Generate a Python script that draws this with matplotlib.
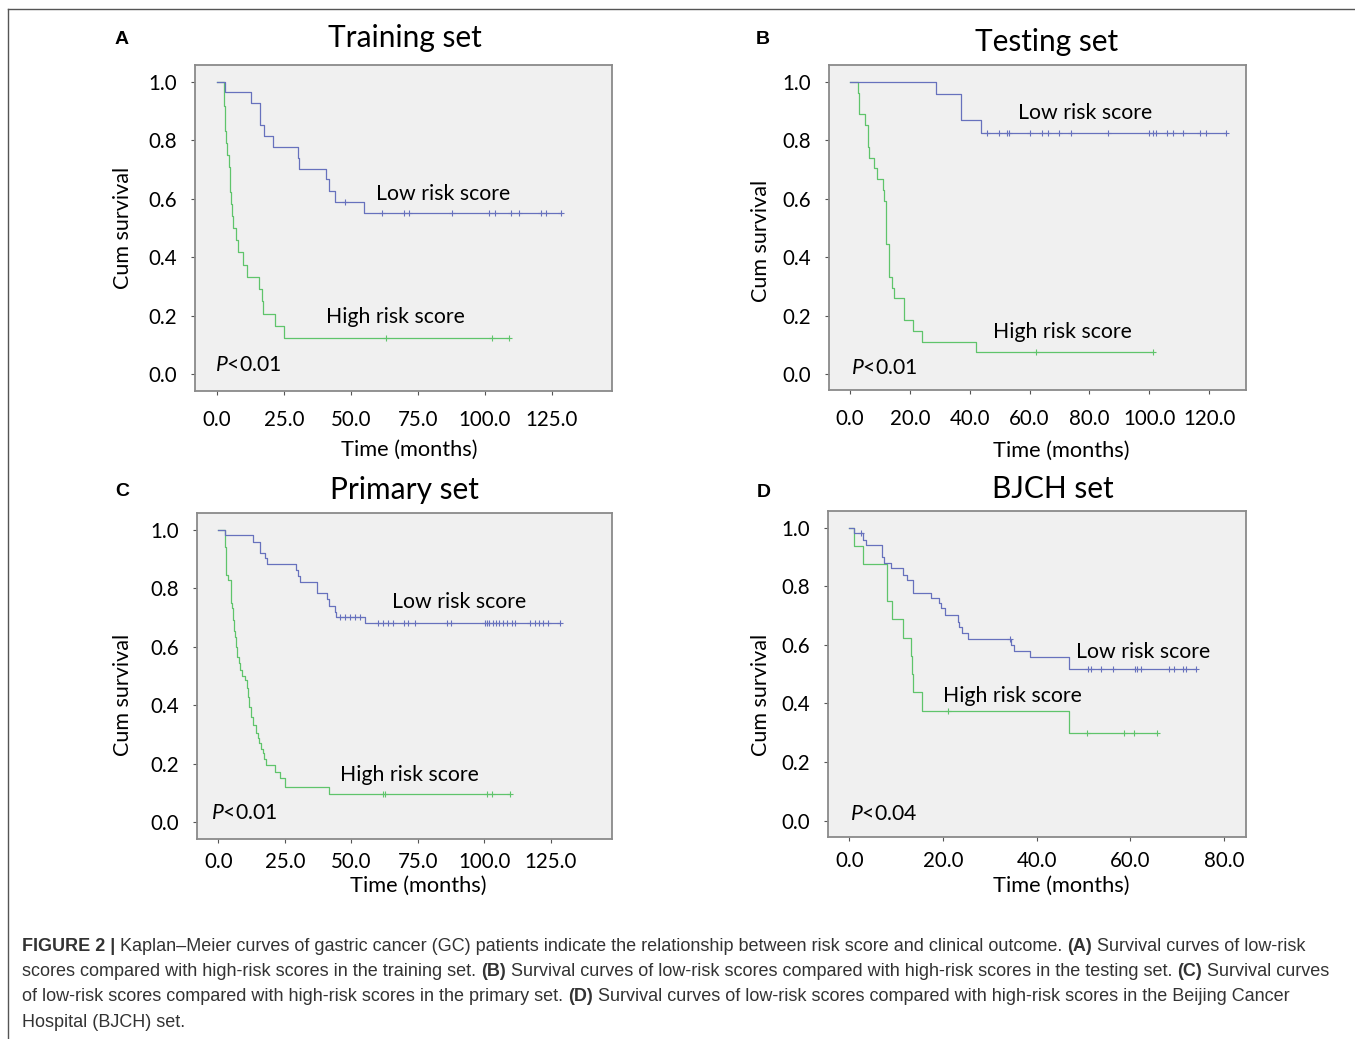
import numpy as np
import matplotlib
matplotlib.use('Agg')
import matplotlib.pyplot as plt
from matplotlib.lines import Line2D

plt.rcParams['font.family'] = ['Lato', 'DejaVu Sans']
plt.rcParams['mathtext.fontset'] = 'custom'
plt.rcParams['mathtext.rm'] = 'Lato'
plt.rcParams['mathtext.it'] = 'Lato:italic'

W, H = 1355, 1039
BLUE = '#6771bd'
GREEN = '#5fc46b'

# ---- A: training set ----
a_low_t = [0, 3.0, 12.9, 16.0, 17.7, 20.9, 30.1, 30.7, 40.9, 41.7, 44.0, 55.0]
a_low_s = [1.0, 0.965, 0.927, 0.853, 0.815, 0.777, 0.741, 0.703, 0.667, 0.628, 0.590, 0.552]
a_low_end = 128.4
a_low_cens = [47.9, 61.8, 69.9, 71.8, 87.9, 101.6, 103.7, 109.7, 112.8, 120.9, 122.8, 128.4]
a_high_t = [0, 2.5, 2.7, 2.9, 3.1, 3.3, 3.7, 4.6, 4.8, 5.0, 5.2, 5.8, 6.0, 7.1, 7.7, 9.8,
            11.4, 15.8, 17.0, 17.2, 21.6, 24.9]
a_high_s = [1.0, 0.958, 0.917, 0.875, 0.833, 0.792, 0.75, 0.708, 0.667, 0.625, 0.583, 0.542,
            0.5, 0.458, 0.417, 0.375, 0.333, 0.292, 0.25, 0.208, 0.167, 0.125]
a_high_end = 109.1
a_high_cens = [63.1, 102.9, 109.1]

# ---- B: testing set ----
b_low_t = [0, 28.9, 37.0, 37.2, 43.9]
b_low_s = [1.0, 0.957, 0.913, 0.870, 0.826]
b_low_end = 125.6
b_low_cens = [45.9, 49.9, 52.3, 53.0, 60.1, 64.0, 66.2, 69.9, 74.0, 86.1, 100.0, 101.3,
              102.2, 106.0, 108.0, 111.3, 116.9, 119.1, 125.6]
b_high_t = [0, 2.8, 2.9, 3.0, 5.0, 5.9, 6.0, 6.4, 8.0, 8.9, 11.1, 11.3, 11.9, 12.0, 12.1,
            12.2, 13.0, 13.1, 13.2, 14.0, 14.8, 18.0, 18.1, 21.2, 23.9, 42.1]
b_high_s = [1.0, 0.963, 0.926, 0.889, 0.852, 0.815, 0.778, 0.741, 0.704, 0.667, 0.630, 0.593,
            0.556, 0.519, 0.481, 0.444, 0.407, 0.370, 0.333, 0.296, 0.259, 0.222, 0.185,
            0.148, 0.111, 0.074]
b_high_end = 101.3
b_high_cens = [62.0, 101.3]

# ---- C: primary set ----
c_low_t = [0, 2.5, 12.9, 15.7, 17.6, 18.4, 29.1, 29.8, 30.7, 37.0, 37.2, 40.8, 41.8, 43.9,
           44.1, 55.2]
c_low_s = [1.0, 0.983, 0.960, 0.922, 0.903, 0.883, 0.863, 0.844, 0.823, 0.803, 0.783, 0.763,
           0.740, 0.720, 0.701, 0.681]
c_low_end = 128.5
c_low_cens = [45.7, 47.6, 49.5, 51.4, 53.3, 60.2, 62.0, 63.9, 65.8, 69.8, 71.4, 73.9, 85.9,
              87.4, 100.3, 100.9, 101.9, 103.2, 104.4, 105.6, 107.1, 108.6, 110.3, 111.5,
              117.2, 119.0, 120.6, 122.1, 124.0, 128.5]
c_high_t = [0, 2.5, 2.6, 2.7, 2.8, 2.9, 3.0, 3.8, 4.6, 4.8, 5.0, 5.4, 5.6, 5.9, 6.2, 6.6,
            6.9, 7.9, 8.3, 8.8, 10.0, 10.8, 11.3, 11.7, 12.3, 12.9, 14.2, 14.8, 15.4, 16.0,
            16.7, 17.3, 17.9, 21.3, 23.2, 25.1, 41.7]
c_high_s = [1.0, 0.98, 0.96, 0.94, 0.92, 0.88, 0.846, 0.829, 0.79, 0.75, 0.732, 0.712, 0.692,
            0.655, 0.635, 0.60, 0.567, 0.544, 0.52, 0.50, 0.487, 0.46, 0.43, 0.393, 0.36,
            0.333, 0.305, 0.29, 0.270, 0.25, 0.236, 0.215, 0.196, 0.173, 0.150, 0.120, 0.097]
c_high_end = 109.7
c_high_cens = [62.0, 62.6, 100.9, 102.8, 109.7]

# ---- D: BJCH set ----
d_low_t = [0, 1.0, 2.9, 3.6, 6.9, 7.5, 9.0, 11.4, 12.3, 13.5, 17.4, 19.2, 19.6, 20.4, 23.1,
           23.5, 24.0, 25.3, 34.5, 35.1, 38.6, 46.9]
d_low_s = [1.0, 0.983, 0.958, 0.941, 0.901, 0.881, 0.861, 0.838, 0.822, 0.778, 0.759, 0.742,
           0.725, 0.702, 0.679, 0.660, 0.639, 0.620, 0.600, 0.580, 0.558, 0.518]
d_low_end = 74.0
d_low_cens = [2.6, 34.2, 51.0, 51.5, 53.7, 56.2, 61.0, 61.5, 62.3, 68.3, 69.4, 71.3, 71.9, 74.0]
d_high_t = [0, 0.9, 2.9, 8.0, 8.1, 9.2, 11.5, 13.1, 13.3, 13.5, 15.6, 46.9]
d_high_s = [1.0, 0.9375, 0.875, 0.8125, 0.75, 0.6875, 0.625, 0.5625, 0.5, 0.4375, 0.375, 0.30]
d_high_end = 65.6
d_high_cens = [21.1, 50.7, 58.6, 60.8, 65.6]

titles = ['Training set', 'Testing set', 'Primary set', 'BJCH set']
letters = ['A', 'B', 'C', 'D']
pvals = ['$P$<0.01', '$P$<0.01', '$P$<0.01', '$P$<0.04']


def px(x, y):
    return x / W, 1 - y / H


def km(ax, t, s, end, cens, color):
    tt = list(t) + [end]
    ss = list(s) + [s[-1]]
    ax.step(tt, ss, where='post', color=color, lw=0.9)
    idx = np.searchsorted(t, cens, side='right') - 1
    ax.plot(cens, np.array(s)[idx], ls='none', marker='+', ms=4.5, mew=0.8, color=color)


fig = plt.figure(figsize=(W / 100, H / 100), dpi=100)

# axes boxes in pixel coords: left, top, right, bottom
boxes = [(195, 65, 611.5, 390.5), (829, 65, 1246, 390),
         (197.3, 512.7, 611.7, 839), (828.3, 511, 1245.7, 836.7)]
xlims = [(-8.2, 147.4), (-7.0, 132.3), (-7.9, 147.9), (-4.48, 84.6)]
ylims = [(-0.055, 1.058), (-0.055, 1.058), (-0.057, 1.059), (-0.055, 1.057)]
xticks = [np.arange(0, 126, 25), np.arange(0, 121, 20), np.arange(0, 126, 25), np.arange(0, 81, 20)]
xpads = [11, 11, 6.3, 7]

panels = [
    (a_low_t, a_low_s, a_low_end, a_low_cens, a_high_t, a_high_s, a_high_end, a_high_cens),
    (b_low_t, b_low_s, b_low_end, b_low_cens, b_high_t, b_high_s, b_high_end, b_high_cens),
    (c_low_t, c_low_s, c_low_end, c_low_cens, c_high_t, c_high_s, c_high_end, c_high_cens),
    (d_low_t, d_low_s, d_low_end, d_low_cens, d_high_t, d_high_s, d_high_end, d_high_cens),
]
low_lab = [(59.3, 0.616), (56.1, 0.893), (65.3, 0.754), (48.4, 0.576)]
high_lab = [(40.7, 0.195), (47.8, 0.144), (45.8, 0.162), (20.0, 0.426)]
p_lab = [(-0.7, 0.031), (0.3, 0.021), (-2.7, 0.032), (0.1, 0.023)]
title_xy = [(405, 38), (1047, 42), (404, 490), (1053, 489)]
letter_xy = [(122, 40), (763, 40), (122, 492), (764, 493)]
ylab_xy = [(123, 228), (761, 241), (123, 695), (761, 695)]
xlab_xy = [(409, 450), (1061, 451), (418, 886), (1061, 886)]

for i in range(4):
    l, t, r, b = boxes[i]
    ax = fig.add_axes([l / W, 1 - b / H, (r - l) / W, (b - t) / H])
    ax.set_facecolor('#f0f0f0')
    for sp in ax.spines.values():
        sp.set_color('#8a8a8a')
        sp.set_linewidth(1.3)
    lt, ls_, le, lc, ht, hs, he, hc = panels[i]
    km(ax, ht, hs, he, hc, GREEN)
    km(ax, lt, ls_, le, lc, BLUE)
    ax.set_xlim(*xlims[i])
    ax.set_ylim(*ylims[i])
    ax.set_xticks(xticks[i])
    ax.set_xticklabels(['%.1f' % v for v in xticks[i]])
    yt = np.arange(0, 1.01, 0.2)
    ax.set_yticks(yt)
    ax.set_yticklabels(['%.1f' % v for v in yt])
    ax.tick_params(axis='x', length=3, width=0.8, color='#555555', pad=xpads[i],
                   labelsize=14.8)
    ax.tick_params(axis='y', length=3, width=0.8, color='#555555', pad=10, labelsize=14.8)
    ax.text(*low_lab[i], 'Low risk score', fontsize=15.3, ha='left', va='center')
    ax.text(*high_lab[i], 'High risk score', fontsize=15.3, ha='left', va='center')
    ax.text(*p_lab[i], pvals[i], fontsize=15.2, ha='left', va='center')

    fig.text(*px(*title_xy[i]), titles[i], fontsize=21.5, ha='center', va='center')
    fig.text(*px(*letter_xy[i]), letters[i], fontsize=14, fontweight='bold',
             family=['Liberation Sans', 'DejaVu Sans'], ha='center', va='center')
    fig.text(*px(*ylab_xy[i]), 'Cum survival', fontsize=15.5, rotation=90,
             ha='center', va='center')
    fig.text(*px(*xlab_xy[i]), 'Time (months)', fontsize=15.7, ha='center', va='center')

# figure frame (top and left rules)
fig.add_artist(Line2D([8 / W, 1], [1 - 8.5 / H, 1 - 8.5 / H], color='#555555', lw=1.0,
                      transform=fig.transFigure))
fig.add_artist(Line2D([8 / W, 8 / W], [1 - 8.5 / H, 0], color='#555555', lw=1.0,
                      transform=fig.transFigure))

# caption
cap_lines = [
    [('FIGURE 2 |', True),
     (' Kaplan\u2013Meier curves of gastric cancer (GC) patients indicate the relationship '
      'between risk score and clinical outcome. ', False),
     ('(A)', True), (' Survival curves of low-risk', False)],
    [('scores compared with high-risk scores in the training set. ', False), ('(B)', True),
     (' Survival curves of low-risk scores compared with high-risk scores in the testing set. ',
      False),
     ('(C)', True), (' Survival curves', False)],
    [('of low-risk scores compared with high-risk scores in the primary set. ', False),
     ('(D)', True),
     (' Survival curves of low-risk scores compared with high-risk scores in the Beijing Cancer',
      False)],
    [('Hospital (BJCH) set.', False)],
]
cap_base = [951, 976, 1001, 1027]
cap_fam = ['Liberation Sans Narrow', 'Liberation Sans', 'DejaVu Sans']
renderer = fig.canvas.get_renderer()


def rich_line(x0, y0, segs, size, draw=True):
    x = x0
    arts = []
    for txt, bold in segs:
        a = fig.text(x / W, 1 - y0 / H, txt, fontsize=size, family=cap_fam,
                     fontweight='bold' if bold else 'normal', color='#333333',
                     ha='left', va='baseline')
        bb = a.get_window_extent(renderer)
        x += bb.width
        arts.append(a)
    if not draw:
        for a in arts:
            a.remove()
    return x - x0


# scale caption font so first line spans the same width as the reference
base = 13.0
w1 = rich_line(22, cap_base[0], cap_lines[0], base, draw=False)
cap_size = base * 1281 / w1
for segs, yb in zip(cap_lines, cap_base):
    rich_line(22, yb, segs, cap_size)

fig.savefig('out.png', dpi=100)
